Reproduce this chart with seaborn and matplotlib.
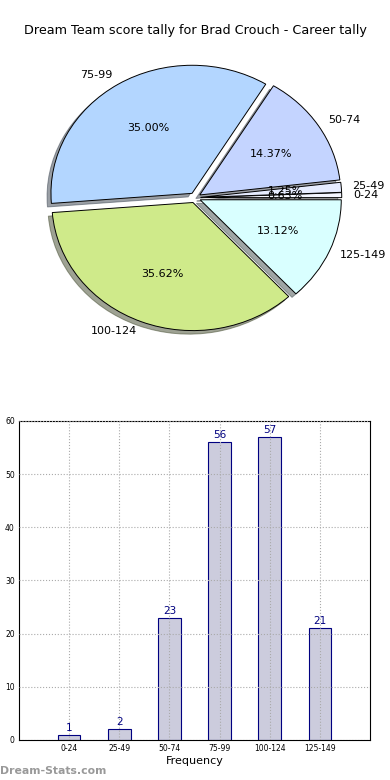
import pandas as pd
import seaborn as sns
import matplotlib
matplotlib.use("Agg")
import matplotlib.pyplot as plt

# Score tally data
ranges = ["0-24", "25-49", "50-74", "75-99", "100-124", "125-149"]
counts = [1, 2, 23, 56, 57, 21]
pct_labels = ["0.63%", "1.25%", "14.37%", "35.00%", "35.62%", "13.12%"]
pie_colors = ["#f4f6ff", "#e6ecff", "#c4d4ff", "#b3d6ff", "#cfea8a", "#d9ffff"]

sns.set_style("white")
plt.rcParams["font.family"] = ["DejaVu Sans"]
plt.rcParams.update({"text.color": "black", "axes.labelcolor": "black",
                     "xtick.color": "black", "ytick.color": "black"})

fig = plt.figure(figsize=(3.9, 7.8), dpi=100)

# Pie (old-style, not forced to a circle)
ax1 = fig.add_axes([0.131, 0.579, 0.738, 0.335])
pct_iter = iter(pct_labels)
ax1.pie(counts, labels=ranges, colors=pie_colors,
        autopct=lambda p: next(pct_iter),
        startangle=0, explode=[0.04] * len(counts), shadow=True,
        labeldistance=1.08,
        wedgeprops=dict(edgecolor="black", linewidth=0.7),
        textprops=dict(fontsize=8, color="black"))
ax1.set_aspect("auto")
ax1.set_xlim(-1.02, 1.02)
ax1.set_ylim(-1.02, 1.02)
fig.text(0.5, 0.961, "Dream Team score tally for Brad Crouch - Career tally",
         ha="center", va="center", fontsize=9.2)

# Bars
df = pd.DataFrame({"range": ranges, "count": counts})
ax2 = fig.add_axes([0.0487, 0.0513, 0.9, 0.409])
sns.barplot(data=df, x="range", y="count", ax=ax2, width=0.45,
            color="#ccccdd", edgecolor="navy", linewidth=0.8, saturation=1)
for i, c in enumerate(counts):
    ax2.text(i, c + 0.4, str(c), ha="center", va="bottom",
             color="navy", fontsize=7.5)
ax2.set_xlim(-1, 6)
ax2.set_ylim(0, 60)
ax2.set_yticks(range(0, 61, 10))
ax2.grid(True, linestyle=":", color="#aaaaaa", linewidth=0.8)
ax2.set_axisbelow(False)
for s in ax2.spines.values():
    s.set_color("black")
    s.set_linewidth(0.8)
ax2.tick_params(labelsize=5.5, length=0, pad=3)
ax2.set_xlabel("Frequency", fontsize=8, labelpad=2)
ax2.set_ylabel("")

fig.text(0.0, 0.012, "Dream-Stats.com", color="#999999", fontsize=7.8,
         fontweight="bold", ha="left", va="center")

fig.savefig("out.png", dpi=100)
